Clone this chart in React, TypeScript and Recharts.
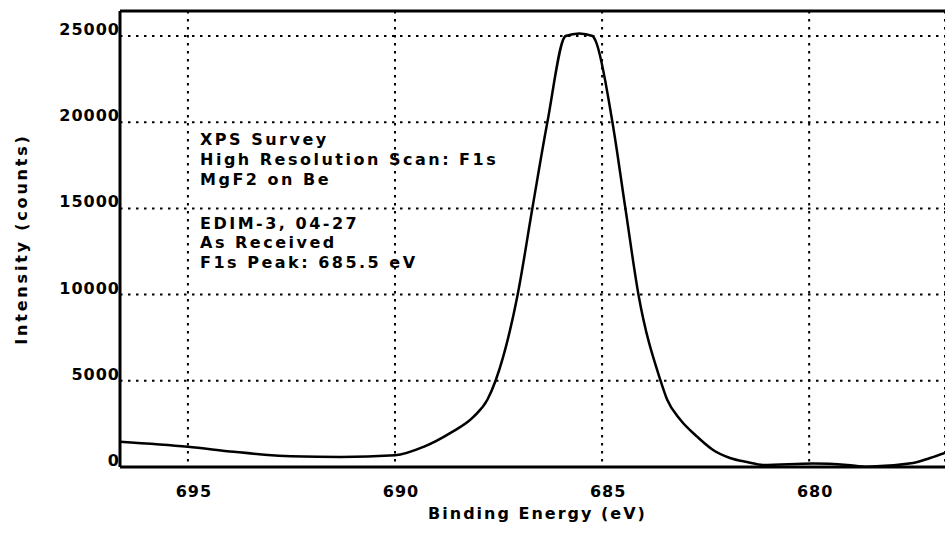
import { LineChart, Line, XAxis, YAxis, CartesianGrid, ReferenceLine } from "recharts";

// binding energy (eV), left to right as plotted
const energy = [
  696.64, 695.0, 693.89, 693.07, 691.87, 691.31, 690.0, 689.31, 688.66, 688.1,
  687.77, 687.57, 687.04, 686.68, 686.32, 685.88, 685.55, 685.23, 685.16, 684.75,
  684.44, 684.12, 683.59, 683.43, 683.11, 682.7, 682.32, 681.91, 681.5, 681.11,
  679.9, 679.08, 678.6, 677.49, 677.08, 676.72,
];
// intensity (counts)
const counts = [
  1460, 1170, 880, 700, 590, 580, 680, 1170, 1980, 2920,
  3900, 5020, 9980, 15050, 20010, 25000, 25150, 25000, 24740, 20000,
  15050, 9980, 5020, 3910, 2740, 1750, 990, 525, 290, 120,
  200, 120, 20, 230, 525, 820,
];

const xTicks = [695, 690, 685, 680];
const yTicks = [0, 5000, 10000, 15000, 20000, 25000];

const notes = [
  "XPS Survey",
  "High Resolution Scan: F1s",
  "MgF2 on Be",
  "EDIM-3, 04-27",
  "As Received",
  "F1s Peak: 685.5 eV",
];
const noteBaselines = [145, 165, 185, 229, 248, 268];

const X_MIN = 676.72;
const X_MAX = 696.64;
const Y_MAX = 26450;

const font = "'DejaVu Sans', sans-serif";

const data = energy.map((e, i) => ({ energy: e, counts: counts[i] }));

function XTick({ x, payload }: any) {
  return (
    <text x={x + 6} y={497} textAnchor="middle" fontFamily={font} fontWeight="bold" fontSize={16} letterSpacing={1} fill="#000">
      {payload.value}
    </text>
  );
}

function YTick({ y, payload }: any) {
  return (
    <text x={120} y={y - 1} textAnchor="end" fontFamily={font} fontWeight="bold" fontSize={16} letterSpacing={1} fill="#000">
      {payload.value}
    </text>
  );
}

function YLabel({ viewBox }: any) {
  const cy = viewBox.y + viewBox.height / 2;
  return (
    <text x={21} y={cy} transform={`rotate(-90, 21, ${cy})`} textAnchor="middle" dominantBaseline="central"
      fontFamily={font} fontWeight="bold" fontSize={16} letterSpacing={2.8} fill="#000">
      Intensity (counts)
    </text>
  );
}

function XLabel({ viewBox }: any) {
  const cx = viewBox.x + viewBox.width / 2 + 5;
  return (
    <text x={cx} y={519} textAnchor="middle" fontFamily={font} fontWeight="bold" fontSize={16} letterSpacing={2} fill="#000">
      Binding Energy (eV)
    </text>
  );
}

export default function App() {
  return (
    <div style={{ position: "absolute", left: 0, top: 0, width: 945, height: 534, background: "#fff" }}>
      <LineChart width={945} height={534} data={data} margin={{ top: 11, right: 0, bottom: 0, left: 0 }}>
        <CartesianGrid stroke="#000" strokeWidth={2} strokeDasharray="2.5 5.5" />
        <XAxis
          dataKey="energy"
          type="number"
          domain={[X_MIN, X_MAX]}
          reversed
          allowDataOverflow
          ticks={xTicks}
          tickLine={false}
          height={67}
          axisLine={{ stroke: "#000", strokeWidth: 3 }}
          tick={<XTick />}
          label={<XLabel />}
        />
        <YAxis
          type="number"
          domain={[0, Y_MAX]}
          allowDataOverflow
          ticks={yTicks}
          tickLine={false}
          width={120}
          axisLine={{ stroke: "#000", strokeWidth: 3 }}
          tick={<YTick />}
          label={<YLabel />}
        />
        <ReferenceLine y={Y_MAX} stroke="#000" strokeWidth={3} />
        <Line type="monotone" dataKey="counts" stroke="#000" strokeWidth={2.5} dot={false} isAnimationActive={false} />
      </LineChart>
      <svg width={945} height={534} style={{ position: "absolute", left: 0, top: 0, pointerEvents: "none" }}>
        {notes.map((t, i) => (
          <text key={t} x={200} y={noteBaselines[i]} fontFamily={font} fontWeight="bold" fontSize={16} letterSpacing={2.5} fill="#000">
            {t}
          </text>
        ))}
      </svg>
    </div>
  );
}
